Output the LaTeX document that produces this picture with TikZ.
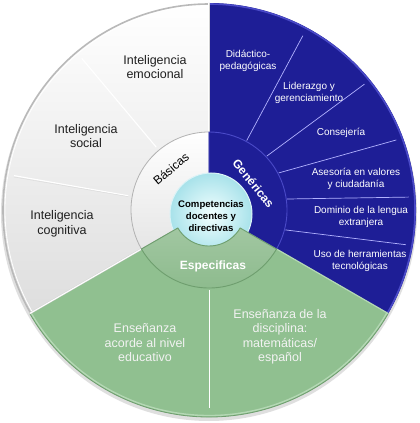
\documentclass[tikz,border=0pt]{standalone}
\usepackage{fontspec}
\setmainfont{Liberation Sans}
\definecolor{navyA}{HTML}{1E1E96}
\definecolor{navyRim}{HTML}{4A4AC8}
\definecolor{grnA}{HTML}{90C090}
\definecolor{grnRim}{HTML}{B4D8B4}
\definecolor{grnRing}{HTML}{8AB98A}
\definecolor{grnRingD}{HTML}{6E9E6E}
\definecolor{cyanOut}{HTML}{A8E2EA}
\definecolor{cyanIn}{HTML}{F2FFFF}
\begin{document}
\begin{tikzpicture}[x=1pt,y=1pt,
  sepline/.style={draw=gray!35, double=white, double distance=1pt, line width=0.4pt},
  blueline/.style={draw=white!70!blue, line width=0.7pt},
  greenline/.style={draw=white, line width=0.9pt},
  graysepline/.style={draw=white, line width=1.1pt},
  wtxt/.style={text=white, align=center, font=\fontsize{10}{12}\selectfont},
  gtxt/.style={text=black!88, align=center, font=\fontsize{12.5}{14.5}\selectfont},
  etxt/.style={text=white!95!black, align=center, font=\fontsize{12.5}{14.5}\selectfont},
  ringlbl/.style={font=\bfseries\fontsize{12}{14}\selectfont, text=white},
  centertxt/.style={align=center, text=black, font=\bfseries\fontsize{9.6}{12.4}\selectfont}
]
\path[use as bounding box] (-209,-213) rectangle (211,210);
% shadow
\fill[black!25, opacity=0.5] (0,-3) circle (208);
% outer sectors
\shade[top color=white, bottom color=black!13] (0,0) -- (90:207) arc[start angle=90, end angle=210, radius=207] -- cycle;
\fill[navyA] (0,0) -- (-30:207) arc[start angle=-30, end angle=90, radius=207] -- cycle;
\fill[grnA] (0,0) -- (210:207) arc[start angle=210, end angle=330, radius=207] -- cycle;
% rims
\draw[gray!55, line width=1.6pt] (90:206) arc[start angle=90, end angle=210, radius=206];
\draw[white, line width=0.8pt] (90:204) arc[start angle=90, end angle=210, radius=204];
\draw[navyRim, line width=1.6pt] (-30:206) arc[start angle=-30, end angle=90, radius=206];
\draw[grnRim, line width=1.4pt] (210:205.5) arc[start angle=210, end angle=330, radius=205.5];
\draw[grnRingD, line width=0.8pt] (210:207) arc[start angle=210, end angle=330, radius=207];
% sub-sector lines
\draw[graysepline] (130:82) -- (130:198);
\draw[graysepline] (170:82) -- (170:198);
\draw[draw=gray!30, line width=0.4pt] (170.6:82) -- (170.4:198);
\draw[greenline] (270:80) -- (270:198);
\draw[blueline] (61.5:79) -- (61.7:198);
\draw[blueline] (43:79) -- (39:200);
\draw[blueline] (28:79) -- (20.5:200);
\draw[blueline] (8:79) -- (3.7:200);
\draw[blueline] (-14.6:79) -- (-10:200);
% main separators
\draw[sepline] (90:78) -- (90:207);
\draw[sepline] (210:78) -- (210:207);
\draw[draw=grnRim, line width=1.2pt] (330:78) -- (330:207);
% inner ring
\shade[top color=white, bottom color=black!10, draw=gray!60, line width=0.8pt]
  (90:36) -- (90:78) arc[start angle=90, end angle=210, radius=78] -- (210:36) arc[start angle=210, end angle=90, radius=36] -- cycle;
\fill[navyA, draw=navyRim, line width=0.9pt]
  (-30:36) -- (-30:78) arc[start angle=-30, end angle=90, radius=78] -- (90:36) arc[start angle=90, end angle=-30, radius=36] -- cycle;
% center circle
\shade[inner color=cyanIn, outer color=cyanOut, draw=white!60!cyanOut, line width=1pt] (2,-4) circle (41);
\shade[top color=grnRing!80!white, bottom color=grnRing, draw=grnRingD, line width=0.9pt]
  (210:36) -- (210:78) arc[start angle=210, end angle=330, radius=78] -- (330:36) arc[start angle=330, end angle=210, radius=36] -- cycle;
% ring labels
\node[font=\fontsize{12}{14}\selectfont, text=black, rotate=40] (bas) at (-38,41) {Básicas};
\node[ringlbl, rotate=-51] (gen) at (44.5,26.5) {Genéricas};
\node[ringlbl] (esp) at (4,-56) {Especificas};
\node[centertxt] (ctr) at (2,-6) {Competencias\\docentes y\\directivas};
% gray sector texts
\node[gtxt] (emo) at (-54,143) {Inteligencia\\emocional};
\node[gtxt] (soc) at (-123,74) {Inteligencia\\social};
\node[gtxt] (cog) at (-147,-14) {Inteligencia\\cognitiva};
% blue sector texts
\node[wtxt] (did) at (39,149) {Didáctico-\\pedagógicas};
\node[wtxt] (lid) at (100,117) {Liderazgo y\\gerenciamiento};
\node[wtxt] (con) at (132,77) {Consejería};
\node[wtxt] (ase) at (147,31) {Asesoría en valores\\y ciudadanía};
\node[wtxt] (dom) at (152,-7) {Dominio de la lengua\\extranjera};
\node[wtxt] (uso) at (151,-51) {Uso de herramientas\\tecnológicas};
% green sector texts
\node[etxt] (ens1) at (-64,-133) {Enseñanza\\acorde al nivel\\educativo};
\node[etxt] (ens2) at (71,-127) {Enseñanza de la\\disciplina:\\matemáticas/\\español};
\end{tikzpicture}
\end{document}
